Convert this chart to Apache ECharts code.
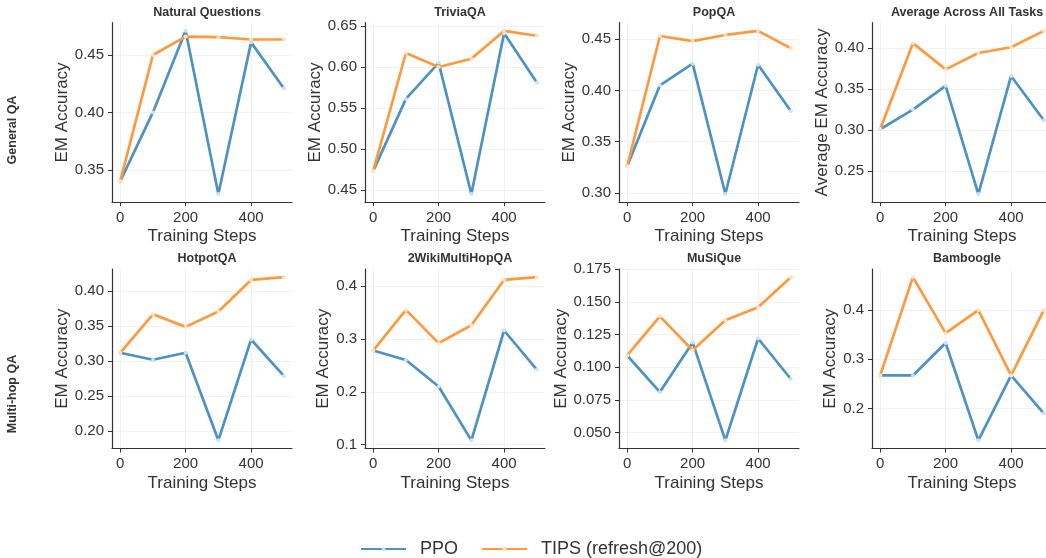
<!DOCTYPE html>
<html>
<head>
<meta charset="utf-8">
<script src="https://cdn.jsdelivr.net/npm/echarts@6/dist/echarts.min.js"></script>
<style>
  html, body { margin: 0; padding: 0; background: #fff; }
  #main { width: 1046px; height: 558px; }
</style>
</head>
<body>
<div id="main"></div>
<script>
// training steps on the x axis
const steps = [0, 100, 200, 300, 400, 500];
const xTicks = [0, 200, 400];

// EM accuracy per dataset, PPO vs TIPS
const nqPPO = [0.340, 0.400, 0.471, 0.329, 0.461, 0.421];
const nqTIPS = [0.340, 0.450, 0.466, 0.4655, 0.4635, 0.4635];
const triviaPPO = [0.473, 0.561, 0.605, 0.445, 0.641, 0.581];
const triviaTIPS = [0.473, 0.617, 0.600, 0.610, 0.644, 0.638];
const popPPO = [0.326, 0.405, 0.426, 0.299, 0.425, 0.380];
const popTIPS = [0.326, 0.453, 0.448, 0.454, 0.458, 0.441];
const avgPPO = [0.301, 0.325, 0.354, 0.222, 0.366, 0.312];
const avgTIPS = [0.301, 0.406, 0.374, 0.394, 0.401, 0.421];
const hotpotPPO = [0.312, 0.302, 0.312, 0.187, 0.331, 0.279];
const hotpotTIPS = [0.312, 0.367, 0.349, 0.371, 0.416, 0.420];
const wikiPPO = [0.278, 0.260, 0.210, 0.108, 0.316, 0.242];
const wikiTIPS = [0.278, 0.355, 0.292, 0.326, 0.412, 0.417];
const musiquePPO = [0.109, 0.081, 0.119, 0.044, 0.122, 0.091];
const musiqueTIPS = [0.109, 0.139, 0.113, 0.136, 0.146, 0.169];
const bambooPPO = [0.267, 0.267, 0.333, 0.135, 0.267, 0.190];
const bambooTIPS = [0.267, 0.467, 0.353, 0.400, 0.267, 0.400];

// y tick labels per panel
const nqTicks = [0.35, 0.40, 0.45];
const triviaTicks = [0.45, 0.50, 0.55, 0.60, 0.65];
const popTicks = [0.30, 0.35, 0.40, 0.45];
const avgTicks = [0.25, 0.30, 0.35, 0.40];
const hotpotTicks = [0.20, 0.25, 0.30, 0.35, 0.40];
const wikiTicks = [0.1, 0.2, 0.3, 0.4];
const musiqueTicks = [0.050, 0.075, 0.100, 0.125, 0.150, 0.175];
const bambooTicks = [0.2, 0.3, 0.4];

const rowLabels = ['General QA', 'Multi-hop QA'];

const panels = [
    {title: 'Natural Questions', ppo: nqPPO, tips: nqTIPS, ticks: nqTicks, digits: 2, yName: 'EM Accuracy', gap: 31},
    {title: 'TriviaQA', ppo: triviaPPO, tips: triviaTIPS, ticks: triviaTicks, digits: 2, yName: 'EM Accuracy', gap: 32},
    {title: 'PopQA', ppo: popPPO, tips: popTIPS, ticks: popTicks, digits: 2, yName: 'EM Accuracy', gap: 32},
    {title: 'Average Across All Tasks', ppo: avgPPO, tips: avgTIPS, ticks: avgTicks, digits: 2, yName: 'Average EM Accuracy', gap: 31},
    {title: 'HotpotQA', ppo: hotpotPPO, tips: hotpotTIPS, ticks: hotpotTicks, digits: 2, yName: 'EM Accuracy', gap: 31},
    {title: '2WikiMultiHopQA', ppo: wikiPPO, tips: wikiTIPS, ticks: wikiTicks, digits: 1, yName: 'EM Accuracy', gap: 24},
    {title: 'MuSiQue', ppo: musiquePPO, tips: musiqueTIPS, ticks: musiqueTicks, digits: 3, yName: 'EM Accuracy', gap: 39},
    {title: 'Bamboogle', ppo: bambooPPO, tips: bambooTIPS, ticks: bambooTicks, digits: 1, yName: 'EM Accuracy', gap: 20}
];

const font = '"Liberation Sans", Arial, Helvetica, sans-serif';
const textColor = '#333';
const blue = '#4C92C3';
const orange = '#FF993E';
const colLeft = [112, 365, 619, 872];
const rowTop = [22.7, 269];
const gridW = 180;
const gridH = 179.5;

let grids = [], xAxes = [], yAxes = [], seriesData = [], titles = [];

panels.forEach(function (p, i) {
    let col = i % 4, row = Math.floor(i / 4);
    let lo = Math.min.apply(null, p.ppo.concat(p.tips));
    let hi = Math.max.apply(null, p.ppo.concat(p.tips));
    let pad = (hi - lo) * 0.05;

    grids.push({
        left: colLeft[col], top: rowTop[row], width: gridW, height: gridH,
        outerBoundsMode: 'none', containLabel: false
    });
    titles.push({
        text: p.title,
        left: colLeft[col] + gridW / 2,
        top: rowTop[row] - 22,
        textAlign: 'center',
        textStyle: {fontFamily: font, fontSize: 12.5, fontWeight: 'bold', color: textColor}
    });
    xAxes.push({
        gridIndex: i,
        type: 'value',
        min: -25, max: 525,
        name: 'Training Steps',
        nameLocation: 'middle',
        nameGap: 26,
        nameTextStyle: {fontFamily: font, fontSize: 17, color: textColor},
        axisLine: {show: true, onZero: false, lineStyle: {color: '#333', width: 1.2}},
        axisTick: {show: true, length: 4, customValues: xTicks, lineStyle: {color: '#333'}},
        axisLabel: {customValues: xTicks, margin: 8, fontFamily: font, fontSize: 15, color: textColor},
        splitLine: {show: true, lineStyle: {color: '#f1f1f1', width: 1}}
    });
    yAxes.push({
        gridIndex: i,
        type: 'value',
        min: lo - pad, max: hi + pad,
        name: p.yName,
        nameLocation: 'middle',
        nameRotate: 90,
        nameGap: p.gap,
        nameTextStyle: {fontFamily: font, fontSize: 17, color: textColor},
        axisLine: {show: true, onZero: false, lineStyle: {color: '#333', width: 1.2}},
        axisTick: {show: true, length: 4, customValues: p.ticks, lineStyle: {color: '#333'}},
        axisLabel: {
            customValues: p.ticks, margin: 8, fontFamily: font, fontSize: 15, color: textColor,
            formatter: function (v) { return v.toFixed(p.digits); }
        },
        splitLine: {show: true, lineStyle: {color: '#f1f1f1', width: 1}}
    });
    [['PPO', p.ppo, blue, '#cfe1ee'], ['TIPS (refresh@200)', p.tips, orange, '#ffe0c2']].forEach(function (s) {
        seriesData.push({
            name: s[0],
            type: 'line',
            xAxisIndex: i,
            yAxisIndex: i,
            data: steps.map(function (x, k) { return [x, s[1][k]]; }),
            symbol: 'circle',
            symbolSize: 4,
            showSymbol: true,
            lineStyle: {color: s[2], width: 2.7},
            itemStyle: {color: s[3], borderWidth: 0},
            emphasis: {disabled: true},
            animation: false
        });
    });
});

let myChart = echarts.init(document.getElementById('main'));
let option = {
    backgroundColor: '#fff',
    animation: false,
    title: titles,
    grid: grids,
    xAxis: xAxes,
    yAxis: yAxes,
    legend: {
        left: 355,
        top: 535,
        itemWidth: 45,
        itemHeight: 5,
        itemGap: 23,
        textStyle: {fontFamily: font, fontSize: 18, color: textColor, padding: [0, 0, 0, 9]},
        data: ['PPO', 'TIPS (refresh@200)']
    },
    graphic: [
        {type: 'text', x: 13, y: 130, rotation: Math.PI / 2,
         style: {text: rowLabels[0], font: 'bold 12.5px ' + font, fill: textColor, align: 'center', verticalAlign: 'middle'}},
        {type: 'text', x: 13, y: 394, rotation: Math.PI / 2,
         style: {text: rowLabels[1], font: 'bold 12.5px ' + font, fill: textColor, align: 'center', verticalAlign: 'middle'}}
    ],
    series: seriesData
};
myChart.setOption(option);

window.addEventListener('resize', function () {
    myChart.resize();
});
</script>
</body>
</html>
